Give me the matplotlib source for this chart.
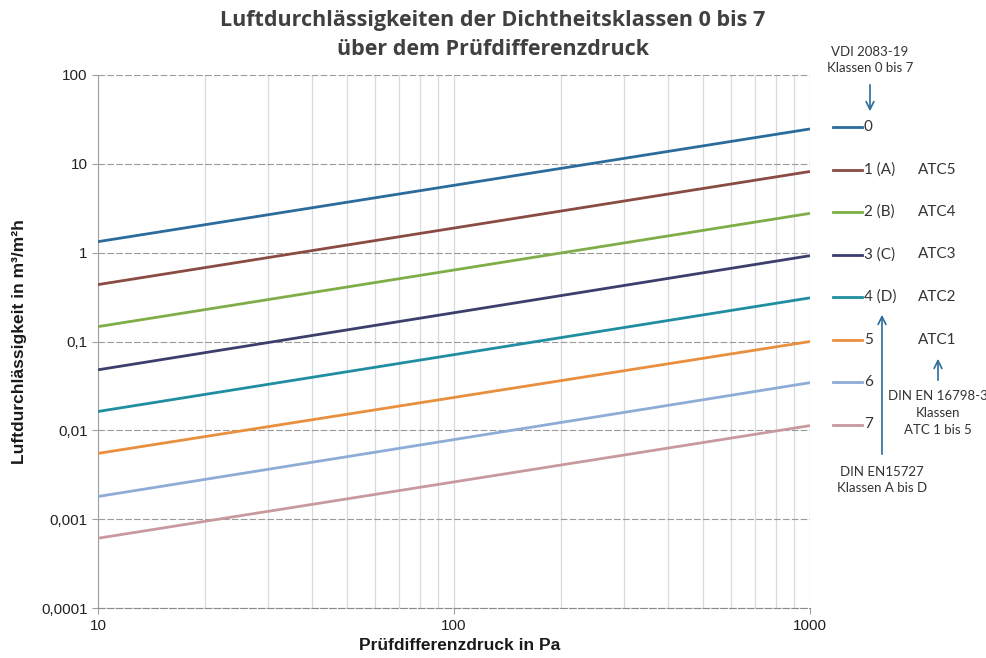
"""
Luftdurchlässigkeit der Dichtheitsklassen 0 bis 7 über dem Prüfdifferenzdruck.
"""

import matplotlib
matplotlib.use('Agg')
import matplotlib.pyplot as plt
from matplotlib.lines import Line2D
from matplotlib.patches import FancyArrowPatch
from matplotlib.ticker import FixedLocator, NullFormatter

# Prüfdifferenzdruck in Pa (Anfang und Ende der Kennlinien)
pressure = [10, 1000]

# Luftdurchlässigkeit in m³/m²h bei 10 Pa und 1000 Pa je Klasse
class_names = ['0', '1 (A)', '2 (B)', '3 (C)', '4 (D)', '5', '6', '7']
leak_10pa = [1.33, 0.437, 0.147, 0.048, 0.0163, 0.0055, 0.0018, 0.00061]
leak_1000pa = [24.7, 8.2, 2.77, 0.925, 0.31, 0.10, 0.0344, 0.0113]
atc_names = ['', 'ATC5', 'ATC4', 'ATC3', 'ATC2', 'ATC1', '', '']

y_ticks = [0.0001, 0.001, 0.01, 0.1, 1, 10, 100]
y_tick_labels = ['0,0001', '0,001', '0,01', '0,1', '1', '10', '100']
x_ticks = [10, 100, 1000]
x_tick_labels = ['10', '100', '1000']

colors = ['#2b6c9c', '#8a4b42', '#7fae48', '#3c3f6c',
          '#1f8ea0', '#e98f3d', '#8eadd6', '#c89a9e']

W, H = 986, 658
fig = plt.figure(figsize=(W / 100, H / 100), dpi=100)
ax = fig.add_axes([98 / W, 1 - 608 / H, (810 - 98) / W, (608 - 75) / H])

for name, y0, y1, color in zip(class_names, leak_10pa, leak_1000pa, colors):
    ax.plot(pressure, [y0, y1], color=color, linewidth=2.0,
            solid_capstyle='butt', zorder=3)

ax.set_xscale('log')
ax.set_yscale('log')
ax.set_xlim(10, 1000)
ax.set_ylim(0.0001, 100)

# gridlines: dashed gray for decades, thin light lines vertically
minor_x = [m * d for d in (10, 100) for m in range(2, 10)]
ax.xaxis.set_minor_locator(FixedLocator(minor_x))
ax.xaxis.set_minor_formatter(NullFormatter())
ax.yaxis.set_minor_locator(FixedLocator([]))
ax.set_xticks(x_ticks)
ax.set_xticklabels(x_tick_labels)
ax.set_yticks(y_ticks)
ax.set_yticklabels(y_tick_labels)

ax.grid(True, axis='y', which='major', color='#9a9a9a', linestyle=(0, (6, 2)),
        linewidth=0.8)
ax.grid(True, axis='x', which='both', color='#d6d9df', linewidth=0.9)

for side in ('top', 'right'):
    ax.spines[side].set_visible(False)
ax.spines['left'].set_color('#a0a0a0')
ax.spines['bottom'].set_color('#8a8a8a')
ax.spines['bottom'].set_linestyle((0, (6, 2)))

ax.tick_params(axis='both', which='both', length=4, color='#a0a0a0',
               labelsize=11, labelcolor='#222222')
ax.tick_params(axis='x', which='minor', length=0)
ax.tick_params(axis='x', pad=4)
for lbl in ax.get_xticklabels() + ax.get_yticklabels():
    lbl.set_fontfamily('Liberation Sans')

ax.set_ylabel('Luftdurchlässigkeit in m³/m²h', fontsize=12.5,
              fontweight='bold', family='Liberation Sans', labelpad=10,
              color='#1a1a1a')
fig.text(460 / W, 1 - 646 / H, 'Prüfdifferenzdruck in Pa', fontsize=12.5,
         fontweight='bold', family='Liberation Sans', ha='center',
         va='center', color='#1a1a1a')

fig.text(493 / W, 1 - 35 / H,
         'Luftdurchlässigkeiten der Dichtheitsklassen 0 bis 7\n'
         'über dem Prüfdifferenzdruck',
         fontsize=15.5, fontweight='bold', family='Open Sans', ha='center',
         va='center', color='#404040', linespacing=1.5)

# legend column on the right
label_font = dict(family='Lato', fontsize=11, color='#333333')
y_first, y_step = 127, 42.5
for i, (name, color, atc) in enumerate(zip(class_names, colors, atc_names)):
    yy = 1 - (y_first + i * y_step) / H
    fig.add_artist(Line2D([833 / W, 862 / W], [yy, yy], color=color,
                          linewidth=2.0, transform=fig.transFigure))
    fig.text(864 / W, yy, name, ha='left', va='center', **label_font)
    if atc:
        fig.text(937 / W, yy, atc, ha='center', va='center', **label_font)

note_font = dict(family='Lato', fontsize=9.5, color='#333333',
                 ha='center', va='center', linespacing=1.5)
arrow_style = dict(arrowstyle='->', color='#2b6c9c', lw=1.2,
                   mutation_scale=14)

fig.text(870 / W, 1 - 60 / H, 'VDI 2083-19\nKlassen 0 bis 7', **note_font)
fig.add_artist(FancyArrowPatch(
    (870 / W, 1 - 82 / H), (870 / W, 1 - 114 / H),
    transform=fig.transFigure, **arrow_style))

fig.add_artist(FancyArrowPatch(
    (882 / W, 1 - 457 / H), (882 / W, 1 - 312 / H),
    transform=fig.transFigure, **arrow_style))
fig.text(882 / W, 1 - 480 / H, 'DIN EN15727\nKlassen A bis D', **note_font)

fig.add_artist(FancyArrowPatch(
    (938 / W, 1 - 383 / H), (938 / W, 1 - 356 / H),
    transform=fig.transFigure, **arrow_style))
fig.text(938 / W, 1 - 413 / H, 'DIN EN 16798-3\nKlassen\nATC 1 bis 5',
         **note_font)

fig.savefig('out.png', dpi=100, facecolor='white')
